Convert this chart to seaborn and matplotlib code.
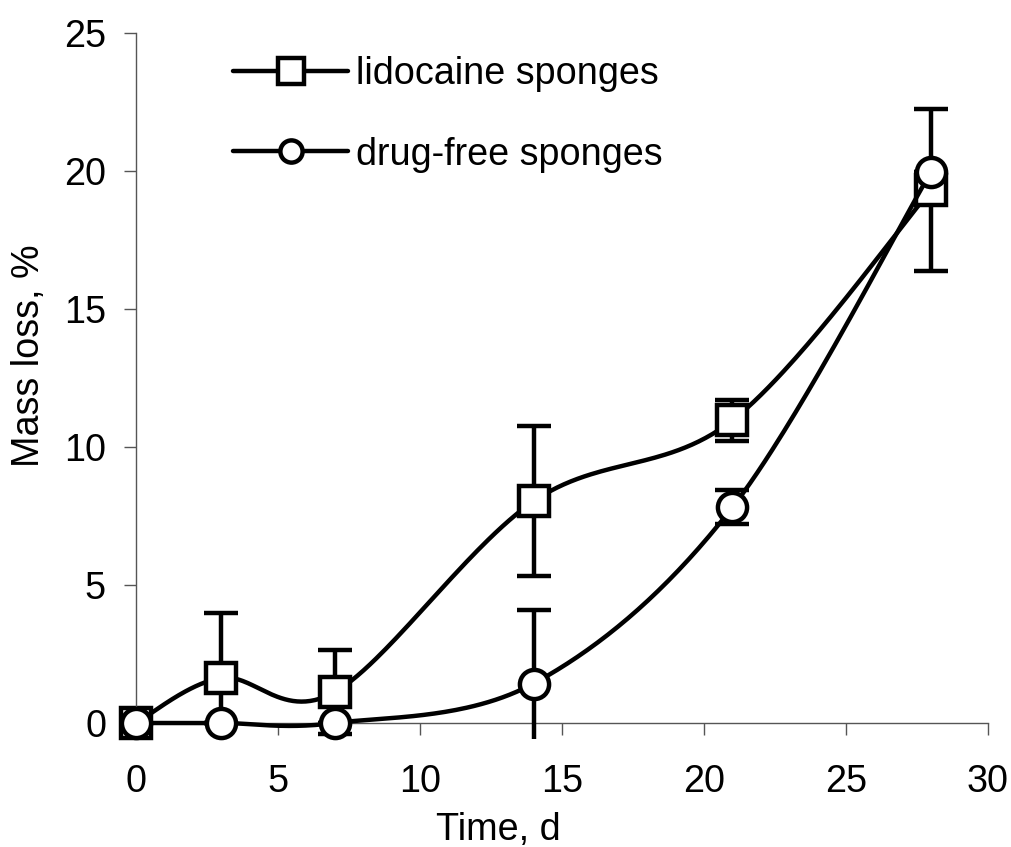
import numpy as np
import pandas as pd
import matplotlib
matplotlib.use("Agg")
import matplotlib.pyplot as plt
from matplotlib.lines import Line2D
import seaborn as sns

# Degradation study: mass loss of sponges over time (mean and SD)
days = [0, 3, 7, 14, 21, 28]
lidocaine_mean = [0.0, 1.63, 1.12, 8.03, 10.96, 19.3]
lidocaine_sd = [0.0, 2.34, 1.53, 2.72, 0.75, 2.93]
drug_free_mean = [0.0, 0.0, 0.0, 1.43, 7.81, 19.97]
drug_free_sd = [0.0, 0.0, 0.0, 2.67, 0.62, 0.0]
series_names = ["lidocaine sponges", "drug-free sponges"]
x_ticks = [0, 5, 10, 15, 20, 25, 30]
y_ticks = [0, 5, 10, 15, 20, 25]

sns.set_theme(style="ticks")
plt.rcParams["font.family"] = ["Liberation Sans", "DejaVu Sans"]
plt.rcParams["text.color"] = "black"

FS = 27.2
LW = 3.2
AXC = "#555555"


def smooth_curve(x, y, n=60):
    """Catmull-Rom style cubic Bezier through the points."""
    p = np.column_stack([x, y]).astype(float)
    ext = np.vstack([p[0], p, p[-1]])
    parts = []
    t = np.linspace(0, 1, n)[:, None]
    for i in range(len(p) - 1):
        p0, p1, p2, p3 = ext[i], ext[i + 1], ext[i + 2], ext[i + 3]
        c1 = p1 + (p2 - p0) / 6.0
        c2 = p2 - (p3 - p1) / 6.0
        seg = (1 - t) ** 3 * p1 + 3 * (1 - t) ** 2 * t * c1 + 3 * (1 - t) * t ** 2 * c2 + t ** 3 * p2
        parts.append(seg if i == 0 else seg[1:])
    return np.vstack(parts)


fig = plt.figure(figsize=(10.12, 8.47), dpi=100)
ax = fig.add_axes([0.1344, 0.1275, 0.8419, 0.834])

series = [
    (series_names[0], lidocaine_mean, lidocaine_sd, "s", 2.0),
    (series_names[1], drug_free_mean, drug_free_sd, "o", 3.0),
]

for name, mean, sd, marker, z in series:
    ax.errorbar(days, mean, yerr=sd, fmt="none", ecolor="black",
                elinewidth=LW, capsize=12, capthick=LW, zorder=z)
    curve = smooth_curve(days, mean)
    df = pd.DataFrame({"day": curve[:, 0], "loss": curve[:, 1]})
    sns.lineplot(data=df, x="day", y="loss", sort=False, estimator=None,
                 color="black", lw=LW, ax=ax, zorder=z + 0.1)
    pts = pd.DataFrame({"day": days, "loss": mean})
    ax.plot(pts["day"], pts["loss"], linestyle="none", marker=marker,
            ms=21, mfc="white", mec="black", mew=LW, zorder=z + 0.2,
            clip_on=False)

ax.set_xlim(0, 30)
ax.set_ylim(-0.58, 25)
ax.set_xticks(x_ticks)
ax.set_yticks(y_ticks)
ax.set_xlabel("")
ax.set_ylabel("")

for s in ["top", "right"]:
    ax.spines[s].set_visible(False)
ax.spines["bottom"].set_position(("data", 0))
ax.spines["left"].set_bounds(0, 25)
for s in ["bottom", "left"]:
    ax.spines[s].set_color(AXC)
    ax.spines[s].set_linewidth(1.0)

ax.tick_params(axis="both", direction="out", length=8.6, width=1.0,
               color=AXC, labelsize=FS, labelcolor="black")
ax.tick_params(axis="y", pad=13)
ax.tick_params(axis="x", pad=21)

fig.text(0.0287, 0.5797, "Mass loss, %", rotation=90, ha="center",
         va="center", fontsize=FS, color="black")
fig.text(0.492, (847 - 840) / 847, "Time, d", ha="center", va="baseline",
         fontsize=FS, color="black")

handles = [
    Line2D([], [], color="black", lw=LW, marker="s", ms=19, mfc="white",
           mec="black", mew=LW),
    Line2D([], [], color="black", lw=LW, marker="o", ms=16, mfc="white",
           mec="black", mew=LW),
]
fig.legend(handles, series_names, loc="upper left",
           bbox_to_anchor=(233 / 1012, (847 - 56) / 847), frameon=False,
           fontsize=FS, handlelength=3.05, handletextpad=0.2,
           labelspacing=1.18, borderpad=0, borderaxespad=0,
           labelcolor="black")

fig.savefig("out.png", dpi=100)
